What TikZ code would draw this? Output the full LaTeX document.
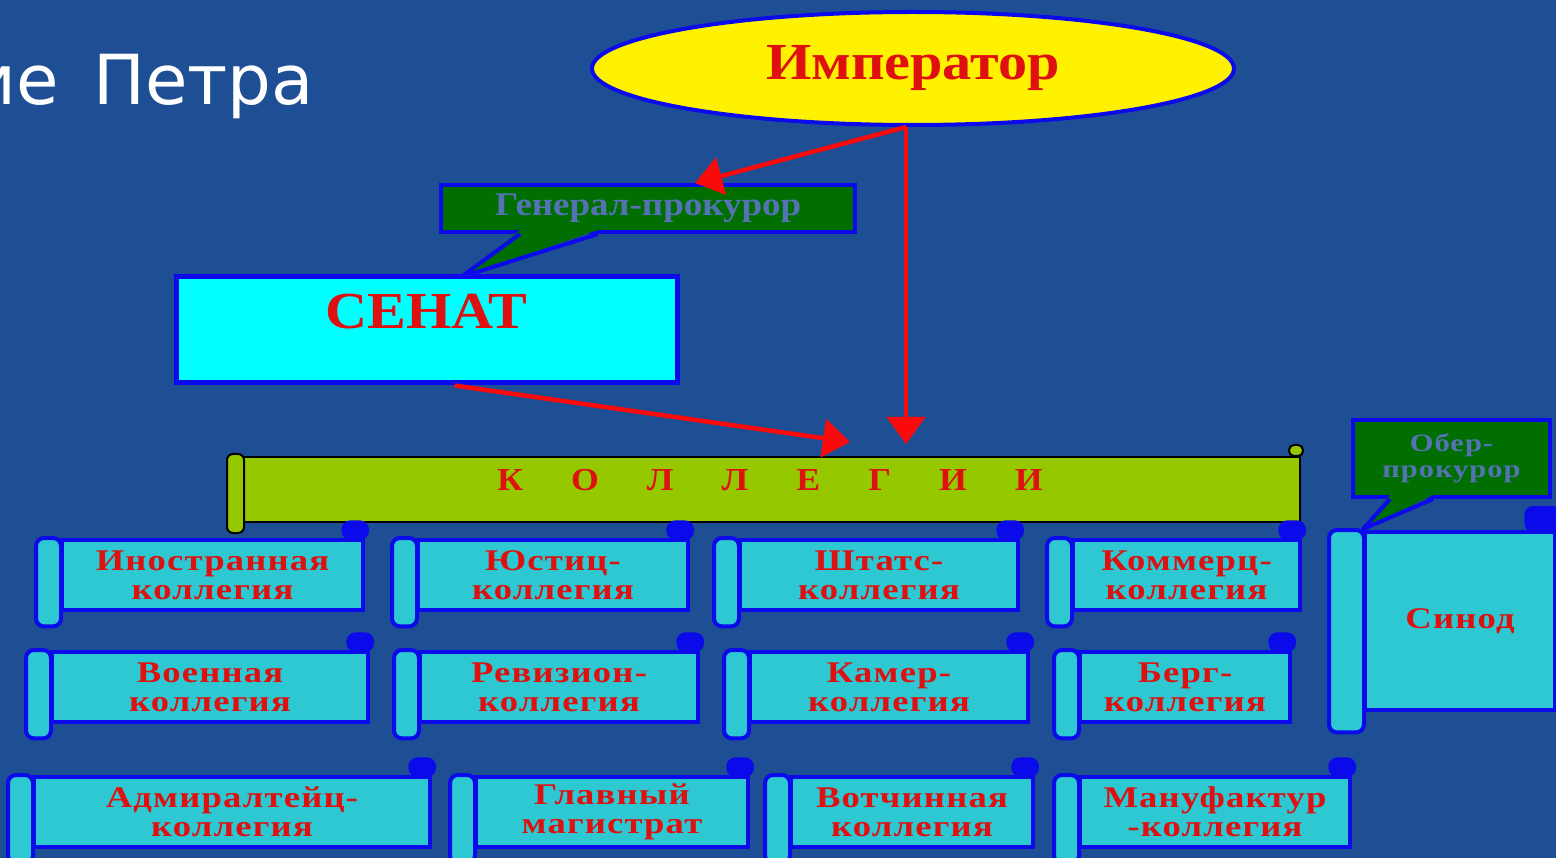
\documentclass[tikz,border=0pt]{standalone}
\usepackage{fontspec}
\usetikzlibrary{shapes.geometric,arrows.meta}

\newfontfamily\titlefont{DejaVu Sans}
\newfontfamily\orgfont[FakeStretch=1.12]{Liberation Serif}
\newfontfamily\collfont[FakeStretch=1.22,LetterSpace=4]{Liberation Serif}

\definecolor{bgblue}{RGB}{30,78,148}
\definecolor{lineblue}{RGB}{10,10,235}
\definecolor{labelred}{RGB}{222,16,16}
\definecolor{arrowred}{RGB}{250,10,10}
\definecolor{scrollcyan}{RGB}{45,200,210}
\definecolor{senatcyan}{RGB}{0,255,255}
\definecolor{kollgreen}{RGB}{150,200,0}
\definecolor{notegreen}{RGB}{0,110,0}
\definecolor{notetext}{RGB}{85,115,180}

% left roll and top-right curl of a scroll node
\newcommand\scrollparts[2][24]{%
  \draw[curlpart] ([xshift={-#1*0.9pt}]#2.north east) rectangle ([xshift=2pt,yshift={0.65*#1pt}]#2.north east);
  \draw[rollpart] ([xshift={-#1*1pt}]#2.north west) rectangle ([xshift=1pt,yshift={-0.6*#1pt}]#2.south west);
}

\begin{document}
\begin{tikzpicture}[x=1pt,y=-1pt,
  redlabel/.style={text=labelred, font=\orgfont\bfseries\fontsize{52}{52}\selectfont},
  scrollbody/.style={draw=lineblue, line width=4pt, fill=scrollcyan, text=labelred, font=\collfont\bfseries\fontsize{30}{29}\selectfont,
    align=center, inner sep=0pt, minimum height=70},
  rollpart/.style={draw=lineblue, line width=4pt, fill=scrollcyan, rounded corners=8pt},
  curlpart/.style={draw=lineblue, line width=4pt, fill=lineblue, rounded corners=7pt},
  notebox/.style={draw=lineblue, line width=4pt, fill=notegreen, text=notetext, align=center, inner sep=0pt},
  tailline/.style={draw=lineblue, line width=4pt, line join=round},
  redarrow/.style={draw=arrowred, line width=4.5pt, -{Triangle[length=27pt,width=38pt]}}
]

% Background
\useasboundingbox (0,0) rectangle (1556,858);
\clip (0,0) rectangle (1556,858);
\fill[bgblue] (0,0) rectangle (1556,858);

% Define row heights of the colleges
\def\rowa{575}
\def\rowb{687}
\def\rowc{812}

% Title (cut at the left)
\node[anchor=base east, inner sep=0pt, text=white, font=\titlefont\fontsize{69}{69}\selectfont] (title) at (314,105) {\spaceskip=34pt ие Петра};

% Emperor
\node[ellipse, draw=lineblue, line width=4pt, fill=yellow, minimum width=642, minimum height=113, inner sep=0pt,
  redlabel] (emp) at (913,68.5) {Император};

% Senate
\node[draw=lineblue, line width=5pt, fill=senatcyan, minimum width=501, minimum height=106, inner sep=0pt,
  redlabel, text height=34pt, text depth=36pt] (senat) at (426.5,330) {СЕНАТ};

% General prosecutor callout
\node[notebox, minimum width=414, minimum height=47, font=\orgfont\bfseries\fontsize{33}{33}\selectfont] (genpr) at (648,208.5) {Генерал-прокурор};
\coordinate (gtip) at (461,277);
\fill[notegreen] ([xshift=81pt,yshift=4pt]genpr.south west) -- (gtip) -- ([xshift=159pt,yshift=4pt]genpr.south west) -- cycle;
\draw[tailline] ([xshift=81pt]genpr.south west) -- (gtip) -- ([xshift=159pt]genpr.south west);

% Colleges banner
\node[draw=black, line width=2pt, fill=kollgreen, minimum width=1060, minimum height=65, inner sep=0pt,
  redlabel, font=\orgfont\bfseries\fontsize{32}{32}\selectfont, text height=23pt, text depth=21pt] (koll) at (770,489.5) {\spaceskip=48pt К О Л Л Е Г И И};
\draw[black, line width=2pt, fill=kollgreen, rounded corners=5pt] ([xshift=-12pt]koll.north east) rectangle ([xshift=2pt,yshift=11pt]koll.north east);
\draw[black, line width=2pt, fill=kollgreen, rounded corners=6pt] ([xshift=-12pt,yshift=2pt]koll.north west) rectangle ([xshift=5pt,yshift=-10pt]koll.south west);

% Arrows
\draw[redarrow] ([xshift=-7pt]emp.south) -- ([xshift=47pt]genpr.north);
\draw[redarrow, shorten >=12pt] ([xshift=-7pt]emp.south) -- ([xshift=-7pt]emp.south |- koll.north);
\draw[redarrow] ([xshift=28pt]senat.south) -- ([xshift=80pt,yshift=14pt]koll.north);

% First row
\node[scrollbody, minimum width=301] (inostr) at (212.5,\rowa) {Иностранная\\коллегия};
\node[scrollbody, minimum width=270] (justic) at (553,\rowa) {Юстиц-\\коллегия};
\node[scrollbody, minimum width=278] (shtats) at (879,\rowa) {Штатс-\\коллегия};
\node[scrollbody, minimum width=227] (kommerc) at (1186.5,\rowa) {Коммерц-\\коллегия};
\scrollparts{inostr} \scrollparts{justic} \scrollparts{shtats} \scrollparts{kommerc}

% Second row
\node[scrollbody, minimum width=316] (voen) at (210,\rowb) {Военная\\коллегия};
\node[scrollbody, minimum width=278] (reviz) at (559,\rowb) {Ревизион-\\коллегия};
\node[scrollbody, minimum width=278] (kamer) at (889,\rowb) {Камер-\\коллегия};
\node[scrollbody, minimum width=210] (berg) at (1185,\rowb) {Берг-\\коллегия};
\scrollparts{voen} \scrollparts{reviz} \scrollparts{kamer} \scrollparts{berg}

% Third row
\node[scrollbody, minimum width=396] (admir) at (232,\rowc) {Адмиралтейц-\\коллегия};
\node[scrollbody, minimum width=272] (magistr) at (612,\rowc) {Главный\\магистрат};
\node[scrollbody, minimum width=242] (votch) at (912,\rowc) {Вотчинная\\коллегия};
\node[scrollbody, minimum width=270] (manuf) at (1215,\rowc) {Мануфактур\\-коллегия};
\scrollparts{admir} \scrollparts{magistr} \scrollparts{votch} \scrollparts{manuf}

% Synod with its ober-prosecutor
\node[scrollbody, minimum width=190, minimum height=178] (sinod) at (1460,621) {Синод};
\scrollparts[34]{sinod}
\node[notebox, minimum width=197, minimum height=77, font=\collfont\bfseries\fontsize{25}{26}\selectfont] (oberpr) at (1451.5,458.5) {Обер-\\прокурор};
\coordinate (otip) at (1363,529);
\fill[notegreen] ([xshift=39pt,yshift=4pt]oberpr.south west) -- (otip) -- ([xshift=82pt,yshift=4pt]oberpr.south west) -- cycle;
\draw[tailline] ([xshift=39pt]oberpr.south west) -- (otip) -- ([xshift=82pt]oberpr.south west);

\end{tikzpicture}
\end{document}
